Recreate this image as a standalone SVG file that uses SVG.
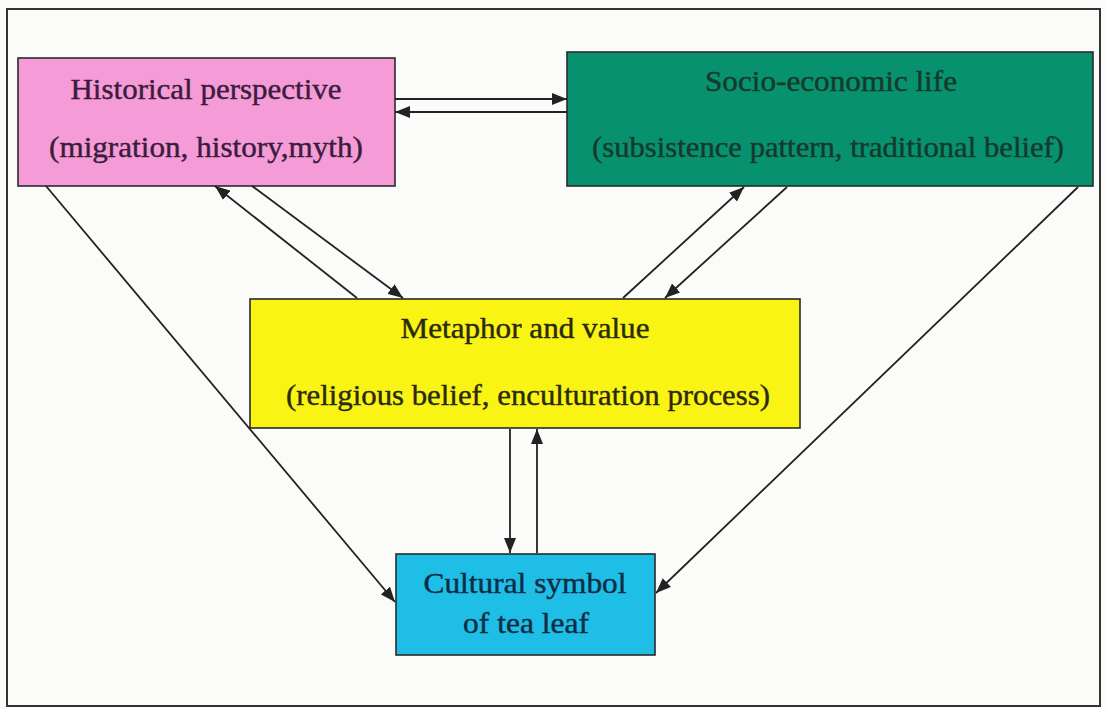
<svg xmlns="http://www.w3.org/2000/svg" width="1106" height="708" viewBox="0 0 1106 708">
<style>
  .box { stroke: #2a2a2a; stroke-width: 1.6; }
  .lbl { font-family: "Liberation Serif", "Times New Roman", Times, serif; font-size: 29px; text-anchor: middle; stroke-width: 0.4; }
  .conn line { stroke: #222; stroke-width: 1.8; fill: none; marker-end: url(#ah); }
</style>
<defs>
  <marker id="ah" markerUnits="userSpaceOnUse" markerWidth="15" markerHeight="12" refX="15" refY="6" orient="auto" viewBox="0 0 15 12">
    <path d="M0,0 L15,6 L0,12 Z" fill="#222"/>
  </marker>
</defs>
<rect x="0" y="0" width="1106" height="708" fill="#fbfbf9"/>
<rect x="7" y="9" width="1093" height="697" fill="none" stroke="#333" stroke-width="2"/>

<g id="node-historical">
  <rect class="box" x="18" y="58" width="377" height="128" fill="#f59bd8"/>
  <text class="lbl" x="206" y="99" fill="#3a1d3a" stroke="#3a1d3a" textLength="271" lengthAdjust="spacingAndGlyphs">Historical perspective</text>
  <text class="lbl" x="206" y="157" fill="#3a1d3a" stroke="#3a1d3a" textLength="314" lengthAdjust="spacingAndGlyphs">(migration, history,myth)</text>
</g>

<g id="node-socio">
  <rect class="box" x="567" y="52" width="526" height="134" fill="#08916e"/>
  <text class="lbl" x="831" y="91" fill="#143a2c" stroke="#143a2c" textLength="252" lengthAdjust="spacingAndGlyphs">Socio-economic life</text>
  <text class="lbl" x="828" y="157" fill="#143a2c" stroke="#143a2c" textLength="472" lengthAdjust="spacingAndGlyphs">(subsistence pattern, traditional belief)</text>
</g>

<g id="node-metaphor">
  <rect class="box" x="250" y="299" width="550" height="129" fill="#faf414"/>
  <text class="lbl" x="525" y="338" fill="#2a2a10" stroke="#2a2a10" textLength="249" lengthAdjust="spacingAndGlyphs">Metaphor and value</text>
  <text class="lbl" x="528" y="405" fill="#2a2a10" stroke="#2a2a10" textLength="484" lengthAdjust="spacingAndGlyphs">(religious belief, enculturation process)</text>
</g>

<g id="node-cultural">
  <rect class="box" x="396" y="554" width="259" height="101" fill="#1ebee6"/>
  <text class="lbl" x="525" y="593" fill="#0f2c44" stroke="#0f2c44" textLength="203" lengthAdjust="spacingAndGlyphs">Cultural symbol</text>
  <text class="lbl" x="526" y="633" fill="#0f2c44" stroke="#0f2c44" textLength="126" lengthAdjust="spacingAndGlyphs">of tea leaf</text>
</g>

<g id="connectors" class="conn">
  <line x1="395" y1="99" x2="567" y2="99"/>
  <line x1="567" y1="112" x2="395" y2="112"/>
  <line x1="252" y1="186" x2="403" y2="298"/>
  <line x1="357" y1="298" x2="215" y2="186"/>
  <line x1="623" y1="298" x2="744" y2="187"/>
  <line x1="787" y1="187" x2="665" y2="298"/>
  <line x1="510" y1="429" x2="510" y2="553"/>
  <line x1="537" y1="553" x2="537" y2="429"/>
  <line x1="46" y1="186" x2="395" y2="602"/>
  <line x1="1078" y1="187" x2="656" y2="593"/>
</g>
</svg>
